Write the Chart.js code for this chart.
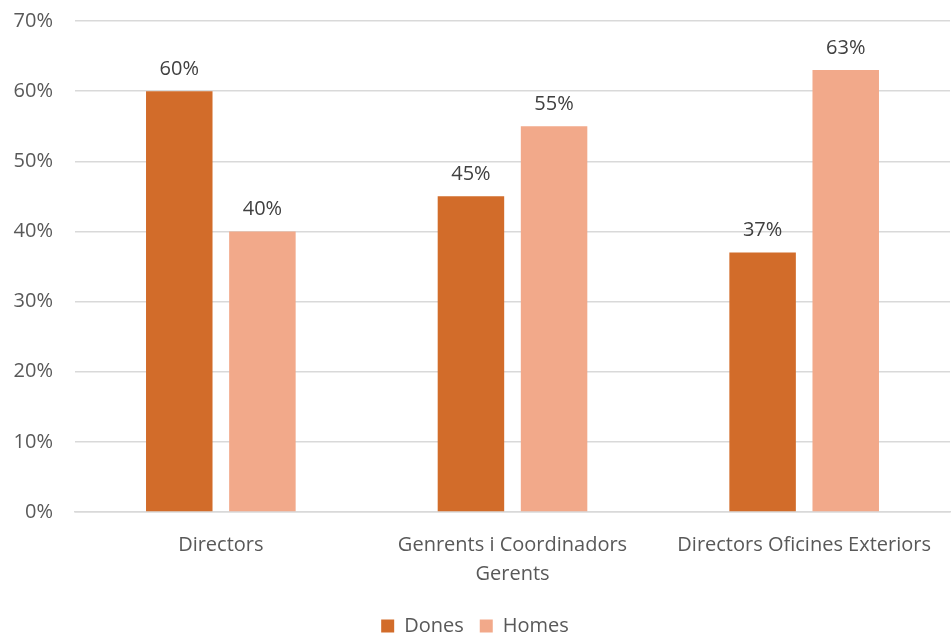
<!DOCTYPE html>
<html>
<head>
<meta charset="utf-8">
<script src="https://cdn.jsdelivr.net/npm/chart.js@4.4.1/dist/chart.umd.min.js"></script>
<style>
  html, body { margin: 0; padding: 0; background: #fff; }
  #wrap { width: 951px; height: 636px; }
</style>
</head>
<body>
<div id="wrap"><canvas id="chart"></canvas></div>
<script>
// dades
const categories = [
  "Directors",
  ["Genrents i Coordinadors", "Gerents"],
  "Directors Oficines Exteriors"
];
const dones = [60, 45, 37];
const homes = [40, 55, 63];
const yTicks = [0, 10, 20, 30, 40, 50, 60, 70];

const FONT = "'Open Sans', Lato, sans-serif";

// etiquetes de valor a sobre de cada barra
const valueLabels = {
  id: "valueLabels",
  afterDatasetsDraw(chart) {
    const ctx = chart.ctx;
    ctx.save();
    ctx.font = "20px " + FONT;
    ctx.fillStyle = "#404040";
    ctx.textAlign = "center";
    ctx.textBaseline = "bottom";
    chart.data.datasets.forEach((ds, i) => {
      chart.getDatasetMeta(i).data.forEach((bar, j) => {
        ctx.fillText(ds.data[j] + "%", bar.x, bar.y - 12);
      });
    });
    ctx.restore();
  }
};

new Chart(document.getElementById("chart"), {
  type: "bar",
  data: {
    labels: categories,
    datasets: [
      {
        label: "Dones",
        data: dones,
        backgroundColor: "#D26C2A",
        categoryPercentage: 0.57,
        barPercentage: 0.8
      },
      {
        label: "Homes",
        data: homes,
        backgroundColor: "#F2A98A",
        categoryPercentage: 0.57,
        barPercentage: 0.8
      }
    ]
  },
  options: {
    responsive: true,
    maintainAspectRatio: false,
    animation: false,
    layout: { padding: { top: 0, right: 1, left: 0, bottom: -10 } },
    plugins: {
      legend: {
        position: "bottom",
        labels: {
          font: { family: FONT, size: 20 },
          color: "#595959",
          boxWidth: 13,
          boxHeight: 13,
          padding: 16
        }
      },
      tooltip: { enabled: false }
    },
    scales: {
      x: {
        grid: { display: false },
        border: { color: "#d9d9d9", width: 1.5 },
        ticks: {
          font: { family: FONT, size: 20, lineHeight: 1.45 },
          color: "#595959",
          padding: 11,
          maxRotation: 0
        }
      },
      y: {
        min: 0,
        max: 70,
        afterFit(scale) {
          scale.width = 75;
          scale.paddingTop = 21;
          scale.paddingBottom = 10;
        },
        afterBuildTicks(scale) { scale.ticks = yTicks.map(v => ({ value: v })); },
        grid: { color: "#d9d9d9", lineWidth: 1.5, drawTicks: false },
        border: { display: false },
        ticks: {
          font: { family: FONT, size: 20 },
          color: "#595959",
          padding: 22,
          callback: v => v + "%"
        }
      }
    }
  },
  plugins: [valueLabels]
});
</script>
</body>
</html>
